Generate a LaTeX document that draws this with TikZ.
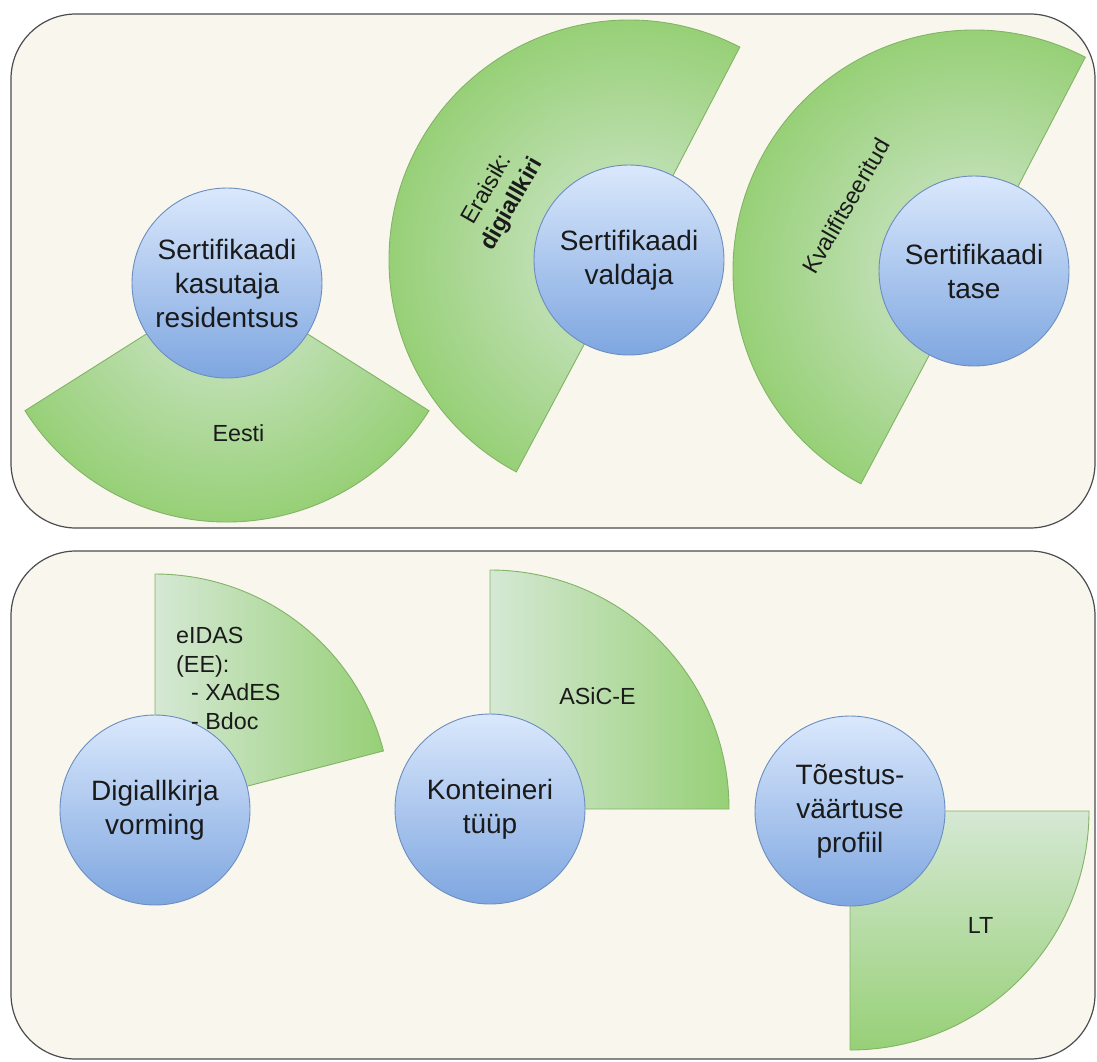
\documentclass[tikz,border=0pt]{standalone}
\usepackage{fontspec}
\setmainfont{Liberation Sans}
\definecolor{panelfill}{HTML}{F9F7ED}
\definecolor{panelline}{HTML}{4A4C50}
\definecolor{sgLight}{HTML}{D5E8D4}
\definecolor{sgDark}{HTML}{97D077}
\definecolor{sgLine}{HTML}{82B366}
\definecolor{bbTop}{HTML}{DAE8FC}
\definecolor{bbBottom}{HTML}{7EA6E0}
\definecolor{bbLine}{HTML}{6C8EBF}
\definecolor{ink}{HTML}{1A1A1A}
\begin{document}
\begin{tikzpicture}[x=1pt,y=-1pt,
  panel/.style={draw=panelline, fill=panelfill, line width=1.2pt, rounded corners=65pt},
  sectorline/.style={draw=sgLine, line width=0.9pt},
  bubble/.style={circle, draw=bbLine, line width=0.9pt, top color=bbTop, bottom color=bbBottom,
    minimum size=190pt, inner sep=0pt, align=center, text=ink,
    font=\fontsize{28}{34}\selectfont},
  lbl/.style={text=ink, inner sep=0pt, font=\fontsize{23.3}{28.7}\selectfont}
]
\useasboundingbox (0,0) rectangle (1097,1061);

% panels
\draw[panel] (11,14) rectangle (1095,528);
\draw[panel] (11,551) rectangle (1095,1059);

% centres of the bubbles (and apexes of the sectors)
\coordinate (pA) at (227,283);
\coordinate (pB) at (629,260);
\coordinate (pC) at (974,271);
\coordinate (pD) at (155,810);
\coordinate (pE) at (490,809);
\coordinate (pF) at (850,811);

% upper row: radially shaded sectors
\begin{scope}
  \clip (pA) -- ++(32.3:239) arc[start angle=32.3, end angle=147.7, radius=239] -- cycle;
  \shade[inner color=sgLight, outer color=sgDark] (pA) circle (239);
\end{scope}
\draw[sectorline] (pA) -- ++(32.3:239) arc[start angle=32.3, end angle=147.7, radius=239] -- cycle;

\begin{scope}
  \clip (pB) -- ++(-62.5:240) arc[start angle=-62.5, end angle=-242, radius=240] -- cycle;
  \shade[inner color=sgLight, outer color=sgDark] (pB) circle (240);
\end{scope}
\draw[sectorline] (pB) -- ++(-62.5:240) arc[start angle=-62.5, end angle=-242, radius=240] -- cycle;

\begin{scope}
  \clip (pC) -- ++(-62.5:241) arc[start angle=-62.5, end angle=-242, radius=241] -- cycle;
  \shade[inner color=sgLight, outer color=sgDark] (pC) circle (241);
\end{scope}
\draw[sectorline] (pC) -- ++(-62.5:241) arc[start angle=-62.5, end angle=-242, radius=241] -- cycle;

% lower row: linearly shaded sectors
\draw[sectorline, left color=sgLight, right color=sgDark]
  (pD) -- ++(-90:236) arc[start angle=-90, end angle=-14.5, radius=236] -- cycle;
\draw[sectorline, left color=sgLight, right color=sgDark]
  (pE) -- ++(-90:239) arc[start angle=-90, end angle=0, radius=239] -- cycle;
\draw[sectorline, top color=sgLight, bottom color=sgDark]
  (pF) -- ++(0:239) arc[start angle=0, end angle=90, radius=239] -- cycle;

% bubbles
\node[bubble] (bA) at (pA) {Sertifikaadi\\kasutaja\\residentsus};
\node[bubble] (bB) at (pB) {Sertifikaadi\\valdaja};
\node[bubble] (bC) at (pC) {Sertifikaadi\\tase};
\node[bubble] (bD) at (pD) {Digiallkirja\\vorming};
\node[bubble] (bE) at (pE) {Konteineri\\tüüp};
\node[bubble] (bF) at (pF) {Tõestus-\\väärtuse\\profiil};

% sector labels
\node[lbl] (tEesti) at (238.5,433) {Eesti};
\node[lbl, rotate=60, align=center] (tEraisik) at (500,197) {Eraisik:\\\textbf{digiallkiri}};
\node[lbl, rotate=60] (tKval) at (846,206) {Kvalifitseeritud};
\node[lbl, align=left, anchor=north west] (tEidas) at (176,627)
  {eIDAS\\(EE):\\\hspace*{15pt}- XAdES\\\hspace*{15pt}- Bdoc};
\node[lbl] (tAsic) at (597.5,696) {ASiC-E};
\node[lbl] (tLT) at (980.5,925) {LT};
\end{tikzpicture}
\end{document}
